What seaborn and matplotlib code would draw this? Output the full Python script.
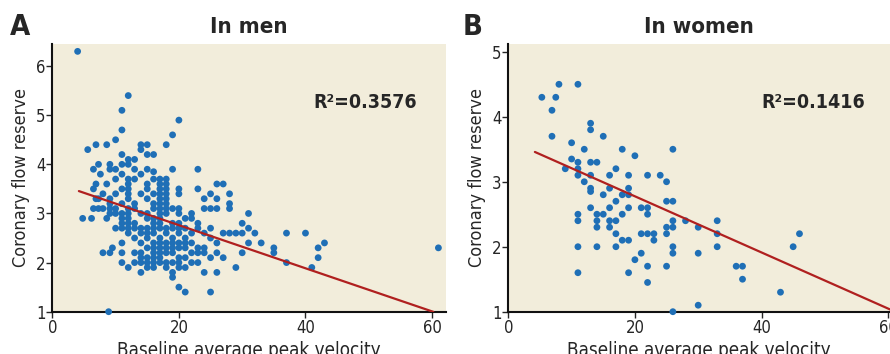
import matplotlib
matplotlib.use('Agg')
import matplotlib.pyplot as plt
import seaborn as sns
import numpy as np
import pandas as pd

sns.set_style('ticks')
plt.rcParams['font.family'] = ['DejaVu Sans']
plt.rcParams['font.stretch'] = 'condensed'

# men : baseline APV vs CFR (column by column)
men_x = ([4, 4.8, 5.6, 6.2] + [6.5]*3 + [6.9]*3 + [7.3]*3 + [7.6] + [8]*3 + [8.6]*3 + [8.9]
         + [9.1]*7 + [9.5] + [10]*7 + [11]*14 + [12]*15 + [13]*10 + [14]*12 + [15]*15
         + [16]*16 + [17]*17 + [18]*16 + [19]*12 + [20]*14 + [21]*8 + [22]*6 + [23]*7
         + [24]*6 + [25]*6 + [26]*6 + [27]*3 + [28]*4 + [29]*2 + [30]*3 + [31]*3 + [32] + [33]
         + [35]*2 + [37]*2 + [40] + [41] + [42]*2 + [43] + [61])
men_y = ([6.3, 2.9, 4.3, 2.9] + [3.9, 3.5, 3.1] + [4.4, 3.6, 3.3] + [4.0, 3.3, 3.1] + [3.8]
         + [3.4, 3.1, 2.2] + [4.4, 3.6, 2.9] + [1.0]
         + [4.0, 3.9, 3.3, 3.2, 3.1, 3.0, 2.2] + [2.3]
         + [4.5, 3.9, 3.7, 3.4, 3.1, 3.0, 2.7]
         + [5.1, 4.7, 4.2, 4.0, 3.8, 3.5, 3.2, 3.0, 2.9, 2.8, 2.7, 2.4, 2.2, 2.0]
         + [5.4, 4.1, 4.0, 3.7, 3.6, 3.5, 3.4, 3.3, 3.1, 3.0, 2.9, 2.8, 2.7, 2.6, 1.9]
         + [4.1, 3.9, 3.7, 3.2, 3.1, 2.8, 2.7, 2.5, 2.2, 2.0]
         + [4.4, 4.3, 3.8, 3.4, 3.0, 2.7, 2.6, 2.4, 2.2, 2.1, 2.0, 1.8]
         + [4.4, 4.2, 3.9, 3.6, 3.5, 3.3, 3.0, 2.9, 2.7, 2.6, 2.5, 2.3, 2.1, 2.0, 1.9]
         + [4.2, 3.85, 3.7, 3.4, 3.2, 3.1, 2.9, 2.8, 2.7, 2.6, 2.4, 2.3, 2.2, 2.1, 2.0, 1.9]
         + [3.7, 3.6, 3.5, 3.4, 3.3, 3.2, 3.1, 3.0, 2.9, 2.8, 2.7, 2.5, 2.4, 2.3, 2.2, 2.1, 2.0]
         + [4.4, 3.7, 3.6, 3.5, 3.4, 3.3, 3.2, 3.1, 3.0, 2.7, 2.6, 2.4, 2.3, 2.2, 2.0, 1.9]
         + [4.6, 3.9, 3.1, 2.8, 2.7, 2.5, 2.4, 2.3, 2.2, 2.0, 1.8, 1.7]
         + [4.9, 3.5, 3.4, 3.1, 3.0, 2.8, 2.7, 2.6, 2.4, 2.3, 2.1, 2.0, 1.9, 1.5]
         + [2.9, 2.7, 2.5, 2.4, 2.3, 2.1, 1.9, 1.4]
         + [3.0, 2.9, 2.6, 2.4, 2.2, 2.0]
         + [3.9, 3.5, 2.8, 2.7, 2.3, 2.2, 2.0]
         + [3.3, 3.1, 2.6, 2.3, 2.2, 1.8]
         + [3.4, 3.1, 2.7, 2.5, 2.1, 1.4]
         + [3.6, 3.3, 3.1, 2.4, 2.2, 1.8]
         + [3.6, 2.6, 2.1] + [3.4, 3.2, 3.1, 2.6] + [2.6, 1.9] + [2.8, 2.6, 2.2]
         + [3.0, 2.7, 2.4] + [2.6] + [2.4] + [2.3, 2.2] + [2.6, 2.0] + [2.6] + [1.9]
         + [2.3, 2.1] + [2.4] + [2.3])

# women
women_x = [5.3, 6.9, 7.5, 8, 6.9, 11, 10, 10, 9, 11, 11, 11, 12, 12, 13, 13, 15, 13, 14,
           13, 13, 13, 13, 11, 11, 11, 11, 14, 14, 14, 14, 15, 15, 16, 16, 16, 16, 16,
           17, 17, 17, 17, 17, 18, 18, 18, 18, 19, 19, 19, 19, 19, 19, 20, 20, 21, 21, 21,
           22, 22, 22, 22, 22, 22, 23, 23, 24, 25, 25, 25, 25, 25, 26, 26, 26, 26, 26, 26,
           26, 28, 30, 30, 30, 33, 33, 33, 36, 37, 37, 43, 45, 46]
women_y = [4.3, 4.1, 4.3, 4.5, 3.7, 4.5, 3.6, 3.35, 3.2, 3.3, 3.2, 3.1, 3.5, 3.0, 3.9, 3.8,
           3.7, 3.3, 3.3, 3.1, 2.9, 2.85, 2.6, 2.5, 2.4, 2.0, 1.6, 2.5, 2.4, 2.3, 2.0, 2.8,
           2.5, 3.1, 2.9, 2.6, 2.4, 2.3, 3.2, 2.7, 2.4, 2.2, 2.0, 3.5, 2.8, 2.5, 2.1, 3.1,
           2.9, 2.8, 2.6, 2.1, 1.6, 3.4, 1.8, 2.6, 2.2, 1.9, 3.1, 2.6, 2.5, 2.2, 1.7, 1.45,
           2.2, 2.1, 3.1, 3.0, 2.7, 2.3, 2.2, 1.7, 3.5, 2.7, 2.4, 2.3, 2.0, 1.9, 1.0, 2.4,
           2.3, 1.9, 1.1, 2.4, 2.2, 2.0, 1.7, 1.7, 1.5, 1.3, 2.0, 2.2]

# fitted lines (intercept, slope, x range) and R2
men_fit = (3.64, -0.0439, 4.2, 60.2)
women_fit = (3.64, -0.0432, 4.2, 60.5)
men_r2 = 'R²=0.3576'
women_r2 = 'R²=0.1416'

bg = '#f2eddb'
dot = '#1f6fb6'
red = '#b0201f'

fig = plt.figure(figsize=(8.9, 3.54), dpi=100)
ax1 = fig.add_axes([52.3/890, 42.3/354, (446-52.3)/890, 267.7/354])
ax2 = fig.add_axes([508.3/890, 42.3/354, (890-508.3)/890, 267.7/354])

panels = [
    (ax1, men_x, men_y, men_fit, men_r2, 'In men', (0, 62.2), (1, 6.45), [1, 2, 3, 4, 5, 6]),
    (ax2, women_x, women_y, women_fit, women_r2, 'In women', (0, 60.3), (1, 5.12), [1, 2, 3, 4, 5]),
]

for ax, xs, ys, fit, r2, title, xlim, ylim, yt in panels:
    ax.set_facecolor(bg)
    d = pd.DataFrame({'x': xs, 'y': ys})
    sns.scatterplot(data=d, x='x', y='y', ax=ax, color=dot, s=24, edgecolor='none', zorder=3, clip_on=False)
    a, b, x0, x1 = fit
    lx = np.array([x0, x1])
    sns.lineplot(x=lx, y=a + b*lx, ax=ax, color=red, lw=1.6, zorder=4)
    ax.set_xlim(*xlim)
    ax.set_ylim(*ylim)
    ax.set_xticks([0, 20, 40, 60])
    ax.set_yticks(yt)
    sns.despine(ax=ax)
    for s in ['left', 'bottom']:
        ax.spines[s].set_linewidth(1.5)
        ax.spines[s].set_color('#111111')
    ax.tick_params(length=4, width=1, labelsize=12, pad=1)
    ax.set_xlabel('Baseline average peak velocity', fontsize=13.5, labelpad=3)
    ax.set_ylabel('Coronary flow reserve', fontsize=13, labelpad=4)
    ax.set_title(title, fontsize=16, fontweight='bold', pad=8)
    ax.text(0.662, 0.78, r2, transform=ax.transAxes, fontsize=14, fontweight='bold', va='center')

fig.text(10/890, 1 - 27/354, 'A', fontsize=21, fontweight='bold', va='center')
fig.text(463/890, 1 - 27/354, 'B', fontsize=21, fontweight='bold', va='center')

fig.savefig('out.png', dpi=100)
